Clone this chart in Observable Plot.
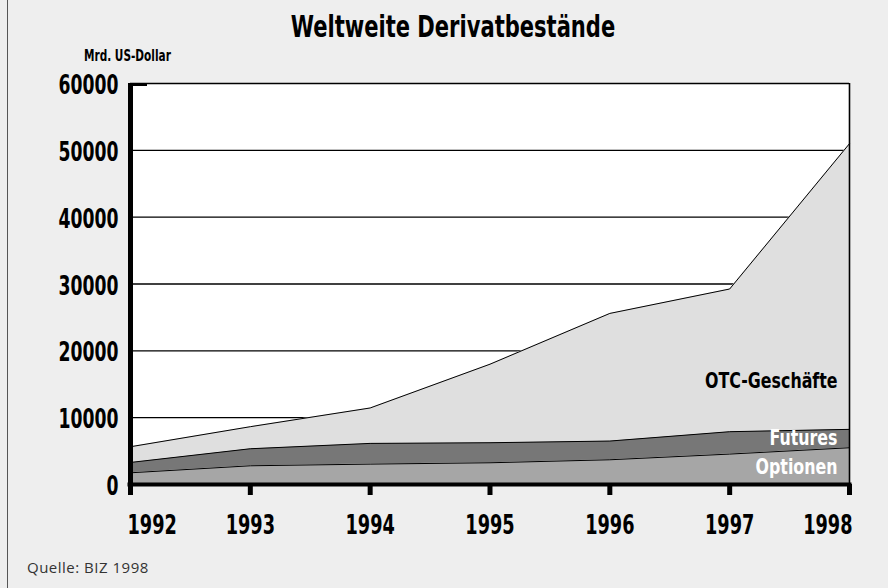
<!DOCTYPE html>
<html>
<head>
<meta charset="utf-8">
<script src="https://cdn.jsdelivr.net/npm/d3@7"></script>
<script src="https://cdn.jsdelivr.net/npm/@observablehq/plot@0.6"></script>
<style>
  html, body { margin: 0; padding: 0; background: #eeeeee; }
  #wrap { position: relative; width: 888px; height: 588px; overflow: hidden; background: #eeeeee;
          font-family: "DejaVu Sans Condensed", "Liberation Sans Narrow", sans-serif; }
  #border { position: absolute; left: 7px; top: 0; width: 1px; height: 588px; background: #555; }
  #title { position: absolute; left: 0; width: 906px; top: 9px; text-align: center; font-size: 30px; font-weight: bold; color: #000;
           transform: scaleX(0.78); transform-origin: 453px 0; }
  #unit { position: absolute; left: 84px; top: 47px; font-size: 15px; font-weight: bold; color: #000;
          transform: scaleX(0.78); transform-origin: 0 0; }
  #caption { position: absolute; left: 27px; top: 557px; font-family: "Open Sans", "Noto Sans", sans-serif; font-size: 15px;
             letter-spacing: 0.5px; color: #333; }
  #chart { position: absolute; left: 0; top: 0; }
</style>
</head>
<body>
<div id="wrap">
  <div id="border"></div>
  <div id="chart"></div>
  <div id="title">Weltweite Derivatbestände</div>
  <div id="unit">Mrd. US-Dollar</div>
  <div id="caption">Quelle: BIZ 1998</div>
</div>
<script>
// ---- data (Mrd. US-Dollar) ----
const years    = [1992, 1993, 1994, 1995, 1996, 1997, 1998];
const optionen = [1750, 2800, 3050, 3250, 3700, 4550, 5500];
const futures  = [1550, 2550, 3100, 3000, 2800, 3350, 2750];
const otc      = [2350, 3300, 5300, 11750, 19100, 21350, 42750];
const series   = ["Optionen", "Futures", "OTC-Geschäfte"];
const colors   = ["#a6a6a6", "#777777", "#dfdfdf"];
const yTicks   = [0, 10000, 20000, 30000, 40000, 50000, 60000];
const gridY    = [10000, 20000, 30000, 40000, 50000];
const labelY   = [2600, 6950, 15500];
const labelFill = ["#ffffff", "#ffffff", "#000000"];

const valuesBySeries = [optionen, futures, otc];
const table = [];
series.forEach((s, i) => years.forEach((y, j) => table.push({series: s, year: y, value: valuesBySeries[i][j]})));
const labels = series.map((s, i) => ({series: s, year: years[years.length - 1], y: labelY[i], fill: labelFill[i]}));

const firstYear = years[0], lastYear = years[years.length - 1];
const fontFam = '"DejaVu Sans Condensed", "Liberation Sans Narrow", sans-serif';

const chart = Plot.plot({
  width: 888,
  height: 588,
  marginLeft: 130,
  marginRight: 39,
  marginTop: 83,
  marginBottom: 104,
  style: {background: "transparent", fontFamily: fontFam, overflow: "visible"},
  x: {domain: [firstYear, lastYear], axis: null},
  y: {domain: [0, 60000], axis: null},
  color: {domain: series, range: colors},
  marks: [
    Plot.frame({fill: "white", stroke: null}),
    Plot.ruleY(gridY, {stroke: "black", strokeWidth: 1.4}),
    Plot.areaY(table, Plot.stackY({x: "year", y: "value", z: "series", fill: "series", order: series})),
    Plot.lineY(table, Plot.stackY2({x: "year", y: "value", z: "series", order: series, stroke: "black", strokeWidth: 1})),
    Plot.ruleY([60000], {stroke: "black", strokeWidth: 1.6}),
    Plot.ruleX([lastYear], {stroke: "black", strokeWidth: 1.6}),
    Plot.ruleY([60000], {x1: firstYear, x2: firstYear, insetRight: -17, stroke: "black", strokeWidth: 3, dy: 1}),
    Plot.axisX({ticks: years, tickSize: 11, strokeWidth: 5, tickFormat: () => "", label: null}),
    Plot.ruleX([firstYear], {stroke: "black", strokeWidth: 5}),
    Plot.ruleY([0], {stroke: "black", strokeWidth: 4, insetLeft: -2.5, insetRight: -2.5}),
    Plot.axisY({ticks: yTicks, tickSize: 0, tickPadding: 12, tickFormat: d => String(d), label: null,
                fontSize: 27, fontWeight: "bold", fill: "black", dy: 2, className: "sx71"}),
    Plot.text(years.slice(0, 1), {x: d => d, frameAnchor: "bottom", dy: 49, textAnchor: "start", dx: -3,
                text: d => String(d), fontSize: 27, fontWeight: "bold", fill: "black", className: "sx73"}),
    Plot.text(years.slice(1, -1), {x: d => d, frameAnchor: "bottom", dy: 49, textAnchor: "middle",
                text: d => String(d), fontSize: 27, fontWeight: "bold", fill: "black", className: "sx73"}),
    Plot.text(years.slice(-1), {x: d => d, frameAnchor: "bottom", dy: 49, textAnchor: "end", dx: 3,
                text: d => String(d), fontSize: 27, fontWeight: "bold", fill: "black", className: "sx73"}),
    Plot.text(labels, {x: "year", y: "y", text: "series", fill: "fill", textAnchor: "end", dx: -12,
                fontSize: 22, fontWeight: "bold", className: "sx80"})
  ]
});

// horizontally condense text (no narrow bold font installed) around each text's own anchor point
function condenseAll(svg) {
  [["sx71", 0.71], ["sx73", 0.73], ["sx80", 0.8]].forEach(([c, s]) => {
    svg.querySelectorAll(`.${c}`).forEach(g => {
      const texts = g.tagName.toLowerCase() === "text" ? [g] : g.querySelectorAll("text");
      texts.forEach(el => {
        const t = el.getAttribute("transform") || "";
        let x = parseFloat(el.getAttribute("x"));
        if (!isFinite(x)) x = 0;
        el.setAttribute("transform", `${t} translate(${x},0) scale(${s},1) translate(${-x},0)`.trim());
      });
    });
  });
}
condenseAll(chart);
document.getElementById("chart").appendChild(chart);
</script>
</body>
</html>
